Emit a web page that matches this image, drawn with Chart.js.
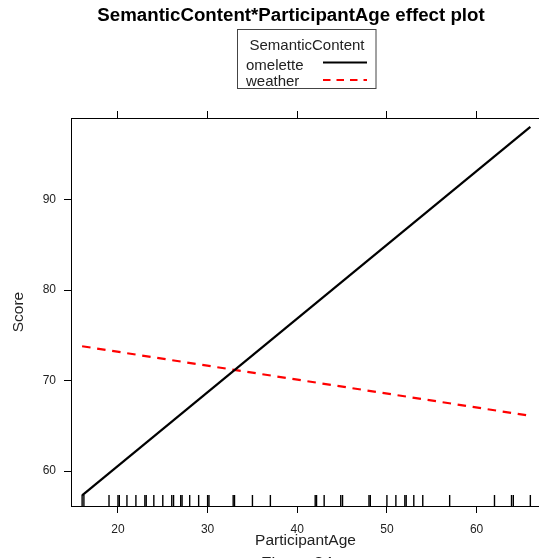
<!DOCTYPE html>
<html>
<head>
<meta charset="utf-8">
<script src="https://cdn.jsdelivr.net/npm/chart.js@4.4.0/dist/chart.umd.min.js"></script>
<style>
html, body { margin: 0; padding: 0; background: #fff; overflow: hidden; }
#wrap { width: 560px; height: 558px; }
</style>
</head>
<body>
<div id="wrap"><canvas id="myChart" width="560" height="558"></canvas></div>
<script>

// fitted effect lines, score at the youngest and oldest age
var ages = [16, 66]
var omelette = [57.3, 98.05]
var weather = [73.8, 66.1]

// participant ages shown as a rug along the bottom (jittered where several share an age)
var rugAges = [16, 16.2, 19, 20, 20.15, 21, 22, 23, 23.15, 24, 25, 26, 26.2, 27, 27.15, 28, 29,
               30, 30.15, 32.85, 33, 35, 37, 42, 42.15, 43, 44.85, 45.05, 48, 48.15, 50, 51,
               52, 52.15, 53, 54, 57, 62, 63.9, 64.1, 66]

var xTicks = [20, 30, 40, 50, 60]
var yTicks = [60, 70, 80, 90]

var FONT = "'Liberation Sans', Arial, sans-serif"

function fixedTicks(list){
    return function(scale){
        scale.ticks = list.map(function(v){ return {value: v} })
    }
}

// titles, legend box and rug are drawn on top of the chart
var extras = {
    id: 'extras',
    afterDraw: function(chart){
        var c = chart.ctx
        var area = chart.chartArea
        var sx = chart.scales.x
        c.save()

        // rug
        c.strokeStyle = '#000'
        c.lineWidth = 1.4
        rugAges.forEach(function(a){
            var px = sx.getPixelForValue(a)
            c.beginPath()
            c.moveTo(px, area.bottom - 11)
            c.lineTo(px, area.bottom)
            c.stroke()
        })

        c.fillStyle = '#000'
        c.textAlign = 'center'
        c.textBaseline = 'alphabetic'
        c.font = 'bold 18.7px ' + FONT
        c.fillText('SemanticContent*ParticipantAge effect plot', 291, 21)

        // legend
        c.strokeStyle = '#444'
        c.lineWidth = 1
        c.strokeRect(237.5, 29.5, 138.5, 59)
        c.fillStyle = '#222'
        c.font = '15px ' + FONT
        c.fillText('SemanticContent', 307, 50)
        c.textAlign = 'left'
        c.fillText('omelette', 246, 70)
        c.fillText('weather', 246, 86)
        c.lineWidth = 2
        c.strokeStyle = '#000'
        c.beginPath()
        c.moveTo(323, 62.5)
        c.lineTo(367, 62.5)
        c.stroke()
        c.strokeStyle = '#ff0000'
        c.setLineDash([7.5, 6])
        c.beginPath()
        c.moveTo(323, 80)
        c.lineTo(367, 80)
        c.stroke()
        c.setLineDash([])

        // axis titles
        c.fillStyle = '#222'
        c.textAlign = 'center'
        c.font = '15.5px ' + FONT
        c.fillText('ParticipantAge', 305.5, 545)
        c.save()
        c.translate(23, 312)
        c.rotate(-Math.PI / 2)
        c.fillText('Score', 0, 0)
        c.restore()

        c.font = '17px ' + FONT
        c.fillText('Figure 34', 297, 569)
        c.restore()
    }
}

var tickFont = {family: FONT, size: 12}
var gridOpts = {drawOnChartArea: false, tickLength: 7, color: '#000', lineWidth: 1}
var borderOpts = {color: '#000', width: 1}

var ctx = document.getElementById('myChart').getContext('2d')
var Chart1 = new Chart(ctx, {
    type: 'line',
    plugins: [extras],
    data: {
        datasets: [{
            label: 'omelette',
            data: ages.map(function(a, i){ return {x: a, y: omelette[i]} }),
            borderColor: '#000',
            borderWidth: 2.2,
            pointRadius: 0,
            tension: 0
        }, {
            label: 'weather',
            data: ages.map(function(a, i){ return {x: a, y: weather[i]} }),
            borderColor: '#ff0000',
            borderWidth: 2.2,
            borderDash: [8.5, 6.7],
            pointRadius: 0,
            tension: 0
        }]
    },
    options: {
        responsive: false,
        animation: false,
        layout: {padding: 0},
        plugins: {
            legend: {display: false},
            tooltip: {enabled: false}
        },
        scales: {
            x: {
                type: 'linear', position: 'bottom',
                min: 14.76, max: 67.3,
                afterBuildTicks: fixedTicks(xTicks),
                afterFit: function(s){ s.height = 52 },
                grid: gridOpts, border: borderOpts,
                ticks: {font: tickFont, color: '#222', padding: 9, maxRotation: 0}
            },
            x2: {
                type: 'linear', position: 'top',
                min: 14.76, max: 67.3,
                afterBuildTicks: fixedTicks(xTicks),
                afterFit: function(s){ s.height = 118 },
                grid: gridOpts, border: borderOpts,
                ticks: {display: false}
            },
            y: {
                type: 'linear', position: 'left',
                min: 56.13, max: 99.04,
                afterBuildTicks: fixedTicks(yTicks),
                afterFit: function(s){ s.width = 71 },
                grid: gridOpts, border: borderOpts,
                ticks: {font: tickFont, color: '#222', padding: 8}
            },
            y2: {
                type: 'linear', position: 'right',
                min: 56.13, max: 99.04,
                afterBuildTicks: fixedTicks(yTicks),
                afterFit: function(s){ s.width = 18 },
                grid: gridOpts, border: borderOpts,
                ticks: {display: false}
            }
        }
    }
})
</script>
</body>
</html>
